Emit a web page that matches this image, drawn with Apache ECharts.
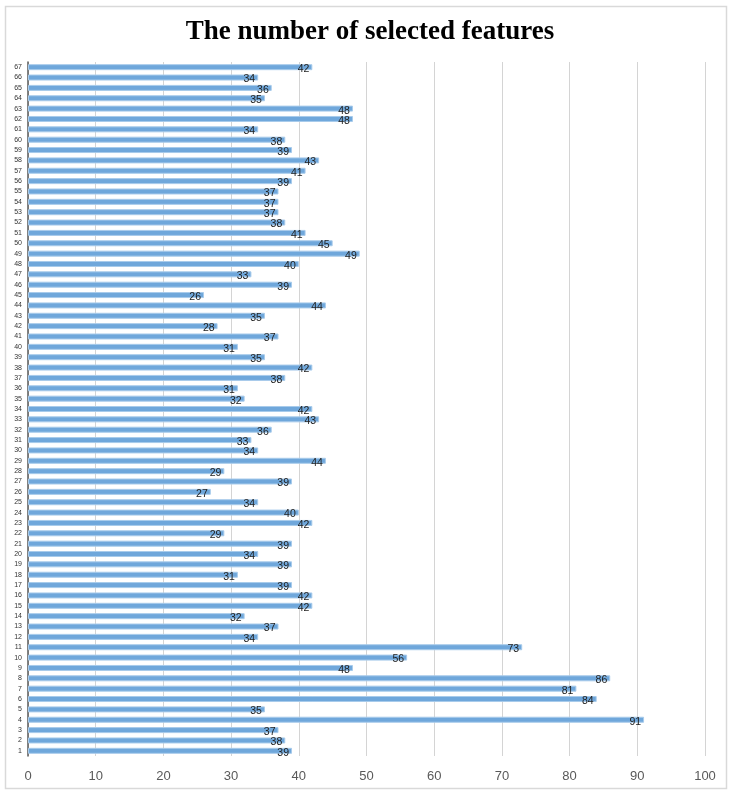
<!DOCTYPE html>
<html>
<head>
<meta charset="utf-8">
<script src="https://cdn.jsdelivr.net/npm/echarts@6/dist/echarts.min.js"></script>
<style>html,body{margin:0;padding:0;background:#fff}#c{width:740px;height:806px}</style>
</head>
<body>
<div id="c"></div>
<script>
const categories = [];
for (let i = 1; i <= 67; i++) categories.push(String(i));
const values = [39,38,37,91,35,84,81,86,48,56,73,34,37,32,42,42,39,31,39,34,39,29,42,40,34,27,39,29,44,34,33,36,43,42,32,31,38,42,35,31,37,28,35,44,26,39,33,40,49,45,41,38,37,37,37,39,41,43,39,38,34,48,48,35,36,34,42];
const xTicks = [0,10,20,30,40,50,60,70,80,90,100];

const chart = echarts.init(document.getElementById('c'));
chart.setOption({
  animation: false,
  backgroundColor: '#fff',
  title: {
    text: 'The number of selected features',
    left: 'center', top: 14,
    textStyle: { fontFamily: 'Liberation Serif', fontWeight: 'bold', fontSize: 27, color: '#000' }
  },
  graphic: [{
    type: 'rect', shape: { x: 5.5, y: 6.5, width: 721, height: 782 },
    style: { fill: 'none', stroke: '#d9d9d9', lineWidth: 1.5 }, z: -1
  }],
  grid: { left: 28, right: 35, top: 62, bottom: 50 },
  xAxis: {
    type: 'value', min: 0, max: 100, interval: 10,
    axisLine: { show: false }, axisTick: { show: false },
    splitLine: { show: true, lineStyle: { color: '#d4d4d4', width: 1 } },
    axisLabel: { color: '#595959', fontSize: 13, fontFamily: 'Liberation Sans', margin: 14,
      formatter: v => xTicks.includes(v) ? String(v) : '' }
  },
  yAxis: {
    type: 'category', data: categories,
    axisLine: { show: true, lineStyle: { color: '#595959', width: 1.5 } },
    axisTick: { show: false },
    axisLabel: { color: '#333', fontSize: 7, fontFamily: 'Liberation Sans', margin: 6, interval: 0 }
  },
  series: [{
    type: 'bar', data: values, barWidth: 6,
    itemStyle: { color: '#6fa7db', borderColor: '#a8cbeb', borderWidth: 1 },
    label: { show: true, position: 'insideRight', distance: 3, offset: [0, 2],
      color: '#222', fontSize: 10.5, fontFamily: 'Liberation Sans' }
  }]
});
</script>
</body>
</html>
